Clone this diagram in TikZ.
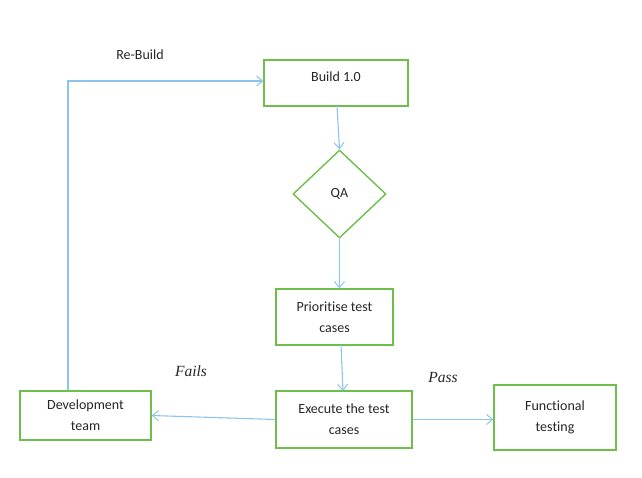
\documentclass[tikz,border=0pt]{standalone}
\usepackage{fontspec}
\setmainfont{Carlito}[Ligatures=NoCommon]
\newfontfamily\serifit{Liberation Serif}
\usetikzlibrary{shapes.geometric,arrows.meta}
\definecolor{boxgreen}{HTML}{6DBE4B}
\definecolor{linkblue}{HTML}{8CC4EC}
\definecolor{txt}{HTML}{262626}
\begin{document}
\begin{tikzpicture}[x=1pt,y=-1pt,
  every node/.style={text=txt,font=\fontsize{14}{21}\selectfont},
  box/.style={draw=boxgreen,line width=1.4pt,rectangle,inner sep=0pt,align=center},
  dia/.style={draw=boxgreen,line width=1.4pt,diamond,inner sep=0pt,minimum width=93pt,minimum height=88pt},
  link/.style={draw=linkblue,line width=1.1pt,-{Straight Barb[length=6pt,width=10pt,line width=1pt]}},
  lab/.style={font=\serifit\itshape\fontsize{15.5}{18}\selectfont}]
\useasboundingbox (0,0) rectangle (642,477);
\node[box,minimum width=144pt,minimum height=46pt] (build) at (336,83) {\raisebox{12pt}{Build 1.0}};
\node[dia] (qa) at (339.5,194) {QA};
\node[box,minimum width=117pt,minimum height=56pt] (prio) at (334.5,317) {Prioritise test\\cases};
\node[box,minimum width=136pt,minimum height=57pt] (exec) at (344,419.5) {Execute the test\\cases};
\node[box,minimum width=131pt,minimum height=49pt] (dev) at (85.5,415.5) {Development\\team};
\node[box,minimum width=122pt,minimum height=65pt] (func) at (555,417.5) {Functional\\testing};
\node (rebuild) at (140,55) {Re-Build};
\node[lab] (fails) at (191,371) {Fails};
\node[lab] (pass) at (443,377) {Pass};
\coordinate (corner) at (68,81);
\draw[link] (337,106) -- (qa.north);
\draw[link] (qa.south) -- (prio.north -| qa.south);
\draw[link] (341,345) -- (343,391);
\draw[link] (exec.west) -- (dev.east);
\draw[link] (exec.east) -- (func.west |- exec.east);
\draw[link] (dev.north -| corner) -- (corner) -- (build.west |- corner);
\end{tikzpicture}
\end{document}
